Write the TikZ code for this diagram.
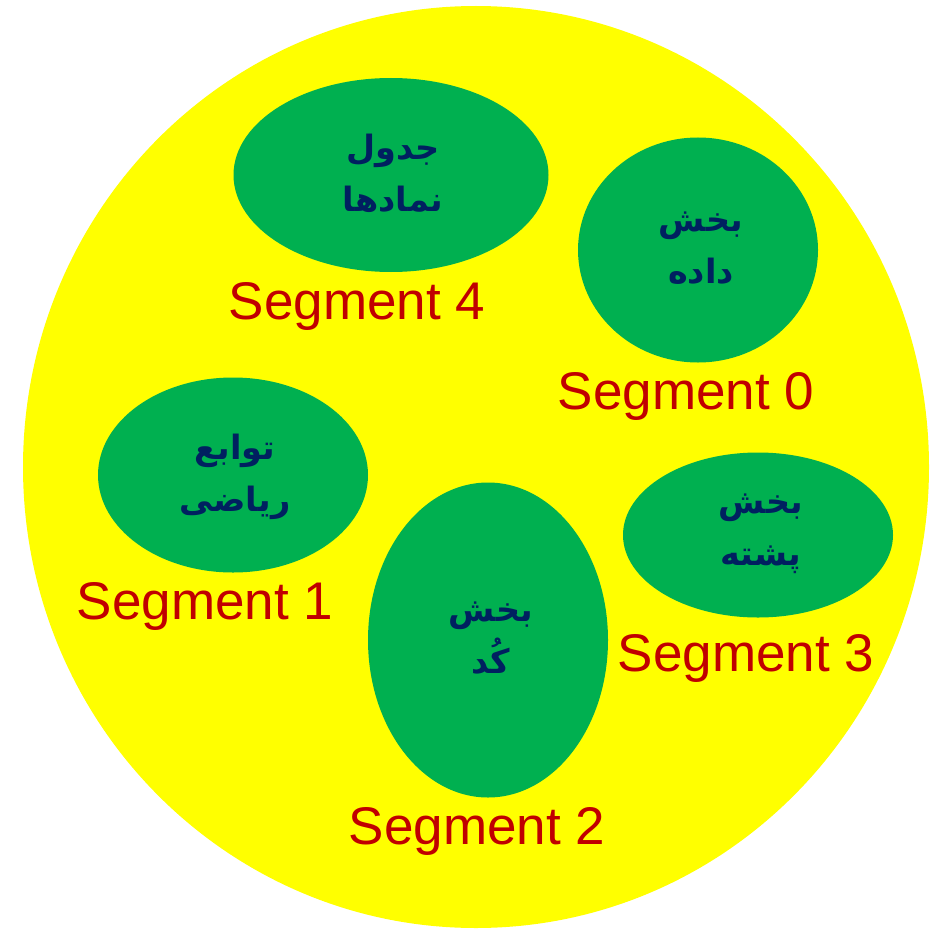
\documentclass[tikz,border=0pt]{standalone}
\usepackage{fontspec}
\setmainfont{Liberation Sans}
\newfontfamily\arabicfont[Script=Arabic]{DejaVu Sans}
\TeXXeTstate=1
\usetikzlibrary{shapes.geometric}
\definecolor{segyellow}{HTML}{FFFF00}
\definecolor{segred}{HTML}{C00000}
\definecolor{seggreen}{HTML}{00B050}
\definecolor{segblue}{HTML}{002060}
\newcommand{\fa}[1]{{\arabicfont\bfseries\beginR #1\endR}}
\tikzset{x=1pt,y=-1pt,
 seg/.style={ellipse,fill=seggreen,inner sep=0pt,outer sep=0pt},
 lab/.style={text=segred,font=\fontsize{53}{53}\selectfont,inner sep=0pt,anchor=center},
 fatext/.style={text=segblue,font=\fontsize{33.5}{52}\selectfont,align=center,inner sep=0pt}}
\begin{document}
\begin{tikzpicture}
\useasboundingbox (0,0) rectangle (941,928);
\fill[white] (0,0) rectangle (941,928);
\node[ellipse,fill=segyellow,minimum width=906pt,minimum height=922pt,inner sep=0pt] (outer) at (476,467) {};
\node[seg,minimum width=315pt,minimum height=194pt] (s4) at (391,175) {};
\node[seg,minimum width=240pt,minimum height=225pt] (s0) at (698,250) {};
\node[seg,minimum width=270pt,minimum height=195pt] (s1) at (233,475) {};
\node[seg,minimum width=240pt,minimum height=315pt] (s2) at (488,640) {};
\node[seg,minimum width=270pt,minimum height=165pt] (s3) at (758,535) {};
\node[fatext] (t4) at (393,173) {\fa{جدول}\\\fa{نمادها}};
\node[fatext] (t0) at (701,248) {\fa{بخش}\\\fa{داده}};
\node[fatext] (t1) at (235,477) {\fa{توابع}\\\fa{ریاضی}};
\node[fatext] (t2) at (491,638) {\fa{بخش}\\\fa{کُد}};
\node[fatext] (t3) at (761,534) {\fa{بخش}\\\fa{پشته}};
\node[lab] (l4) at (357,306) {Segment 4};
\node[lab] (l0) at (686,396) {Segment 0};
\node[lab] (l1) at (205,606) {Segment 1};
\node[lab] (l2) at (477,831) {Segment 2};
\node[lab] (l3) at (746,658) {Segment 3};
\end{tikzpicture}
\end{document}
